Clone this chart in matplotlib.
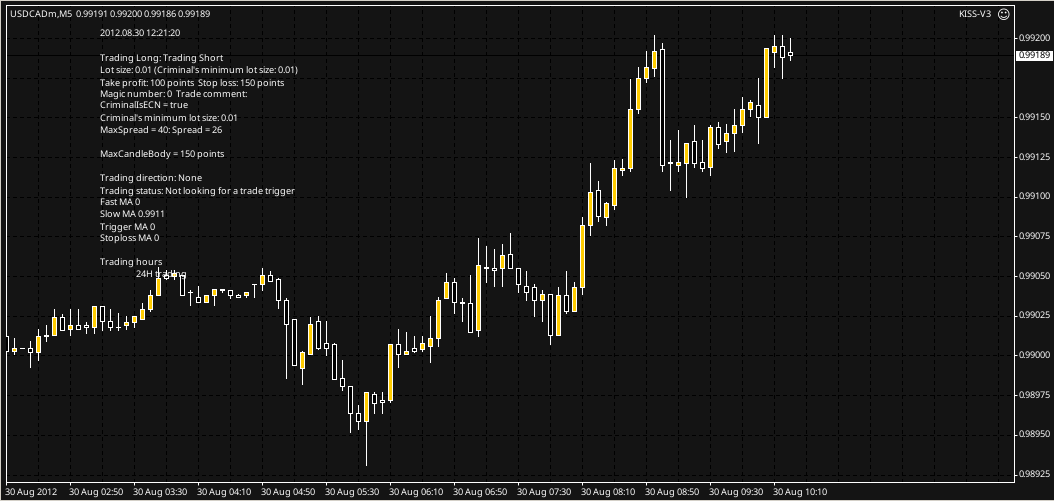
import numpy as np
import matplotlib
matplotlib.use('Agg')
import matplotlib.pyplot as plt
from matplotlib.patches import Rectangle

# prices in 1e-5 units (points), bar 0 = 30 Aug 02:10, M5
opens = [99012, 99003, 99005, 99005, 99002, 99012, 99013, 99024, 99017, 99019,
         99019, 99018, 99031, 99022, 99018, 99019, 99021, 99023, 99029, 99038,
         99051, 99050, 99051, 99040, 99037, 99034, 99038, 99042, 99041, 99038,
         99038, 99045, 99045, 99051, 99048, 99035, 99023, 98992, 99001, 99022,
         99008, 99007, 98986, 98981, 98964, 98959, 98976, 98972, 98972, 99007,
         99001, 99005, 99004, 99006, 99011, 99036, 99046, 99034, 99033, 99016,
         99056, 99055, 99055, 99064, 99055, 99044, 99043, 99035, 99039, 99013,
         99038, 99028, 99043, 99082, 99104, 99087, 99095, 99117, 99118, 99155,
         99175, 99181, 99193, 99122, 99120, 99121, 99135, 99122, 99119, 99144,
         99135, 99140, 99145, 99155, 99158, 99150, 99191, 99195, 99191]
highs = [99012, 99011, 99005, 99009, 99017, 99019, 99029, 99026, 99029, 99029,
         99021, 99031, 99031, 99029, 99027, 99025, 99025, 99033, 99041, 99056,
         99054, 99054, 99051, 99041, 99044, 99038, 99042, 99042, 99041, 99039,
         99040, 99045, 99055, 99053, 99049, 99036, 99023, 99003, 99024, 99025,
         99022, 99008, 98997, 98981, 98969, 98977, 98977, 98977, 99007, 99017,
         99015, 99012, 99012, 99025, 99037, 99052, 99049, 99036, 99051, 99074,
         99069, 99067, 99070, 99077, 99055, 99053, 99045, 99041, 99039, 99043,
         99053, 99046, 99087, 99121, 99110, 99097, 99123, 99124, 99174, 99182,
         99192, 99202, 99197, 99136, 99142, 99134, 99145, 99136, 99145, 99147,
         99146, 99155, 99163, 99161, 99175, 99194, 99202, 99202, 99200]
lows = [99002, 99001, 99005, 98993, 98997, 99009, 99013, 99016, 99013, 99017,
        99014, 99014, 99016, 99016, 99016, 99017, 99018, 99023, 99028, 99038,
        99048, 99048, 99038, 99032, 99034, 99034, 99032, 99040, 99036, 99037,
        99037, 99037, 99041, 99047, 99030, 98986, 98994, 98982, 99001, 99004,
        99000, 98985, 98978, 98952, 98954, 98931, 98964, 98964, 98971, 98993,
        99001, 99002, 99003, 98996, 99006, 99036, 99027, 99022, 99015, 99012,
        99046, 99044, 99044, 99055, 99040, 99035, 99025, 99022, 99007, 99013,
        99027, 99028, 99039, 99076, 99085, 99082, 99092, 99114, 99116, 99153,
        99172, 99176, 99116, 99104, 99116, 99100, 99119, 99116, 99114, 99131,
        99128, 99129, 99141, 99151, 99134, 99150, 99182, 99175, 99186]
closes = [99003, 99005, 99005, 99002, 99012, 99013, 99024, 99016, 99019, 99017,
          99018, 99031, 99022, 99018, 99018, 99021, 99025, 99029, 99038, 99049,
          99049, 99052, 99038, 99040, 99034, 99038, 99042, 99041, 99038, 99037,
          99040, 99045, 99051, 99047, 99035, 99020, 98994, 99002, 99020, 99005,
          99005, 98985, 98981, 98964, 98959, 98977, 98970, 98971, 99007, 99001,
          99003, 99003, 99008, 99011, 99035, 99046, 99034, 99033, 99015, 99057,
          99055, 99054, 99063, 99055, 99045, 99040, 99035, 99039, 99013, 99038,
          99028, 99043, 99082, 99103, 99088, 99096, 99118, 99118, 99155, 99175,
          99182, 99192, 99120, 99121, 99122, 99134, 99121, 99118, 99144, 99133,
          99140, 99145, 99155, 99160, 99150, 99194, 99195, 99188, 99189]

price_ticks = [99200, 99150, 99125, 99100, 99075, 99050, 99025, 99000, 98975, 98950, 98925]
grid_prices = [99200, 99175, 99150, 99125, 99100, 99075, 99050, 99025, 99000, 98975, 98950, 98925]
last_price = 99189

time_labels = ['30 Aug 2012', '30 Aug 02:50', '30 Aug 03:30', '30 Aug 04:10', '30 Aug 04:50',
               '30 Aug 05:30', '30 Aug 06:10', '30 Aug 06:50', '30 Aug 07:30', '30 Aug 08:10',
               '30 Aug 08:50', '30 Aug 09:30', '30 Aug 10:10']

comment_lines = [('2012.08.30 12:21:20', 33),
                 ('Trading Long: Trading Short', 59),
                 ("Lot size: 0.01 (Criminal's minimum lot size: 0.01)", 71),
                 ('Take profit: 100 points  Stop loss: 150 points', 83),
                 ('Magic number: 0  Trade comment:', 95),
                 ('CriminalIsECN = true', 107),
                 ("Criminal's minimum lot size: 0.01", 119),
                 ('MaxSpread = 40: Spread = 26', 131),
                 ('MaxCandleBody = 150 points', 155),
                 ('Trading direction: None', 179),
                 ('Trading status: Not looking for a trade trigger', 191),
                 ('Fast MA 0', 203),
                 ('Slow MA 0.9911', 215),
                 ('Trigger MA 0', 227),
                 ('Stoploss MA 0', 239),
                 ('Trading hours', 263)]

W, H = 1054, 501
BG = '#141414'
BULL = '#ffcc00'
CHROME = '#d4d0c8'
FONT = 'Noto Sans'
FS = 6.6
PX = 0.72  # one pixel at dpi 100

plt.rcParams['font.family'] = FONT
plt.rcParams['text.hinting'] = 'native'
plt.rcParams['text.hinting_factor'] = 1


def fx(x):
    return x / W


def fy(y):
    return 1 - y / H


def label(x, y, s, **kw):
    kw.setdefault('color', 'white')
    kw.setdefault('fontsize', FS)
    fig.text(fx(x), fy(y + 1), s, va='center', **kw)


fig = plt.figure(figsize=(W / 100, H / 100), dpi=100, facecolor=BG)
ax = fig.add_axes([fx(6), fy(482), (1014 - 6) / W, (482 - 5) / H], facecolor=BG)

opens = np.array(opens) / 1e5
highs = np.array(highs) / 1e5
lows = np.array(lows) / 1e5
closes = np.array(closes) / 1e5
bars = np.arange(len(opens))

ax.set_xlim(-0.04, 125.96)
ax.set_ylim(0.989203, 0.992208)

# grid
for k in range(0, 32):
    ax.axvline(k * 4, color='black', lw=PX, ls=(0, (3, 3)), zorder=1, antialiased=False)
for p in grid_prices:
    ax.axhline(p / 1e5, color='black', lw=PX, ls=(0, (3, 3)), zorder=1, antialiased=False)
ax.axhline(last_price / 1e5, color='black', lw=PX, zorder=1.5, antialiased=False)

# candles
ax.vlines(bars, lows, highs, color='white', lw=PX, zorder=3, antialiased=False)
up = closes >= opens
ax.bar(bars, np.abs(closes - opens), bottom=np.minimum(opens, closes), width=0.5,
       color=np.where(up, BULL, 'black'), edgecolor='white', linewidth=PX, zorder=4,
       antialiased=False)

# axes and ticks
for s in ax.spines.values():
    s.set_color('white')
    s.set_linewidth(PX)
ax.set_xticks(np.arange(len(time_labels)) * 8)
ax.set_xticklabels([])
ax.set_yticks(np.array(price_ticks) / 1e5)
ax.set_yticklabels([])
ax.yaxis.tick_right()
ax.tick_params(colors='white', length=2, width=PX)

for i, s in enumerate(time_labels):
    label(5 + 64 * i, 491, s)
for p in price_ticks:
    y = 482 - (p / 1e5 - 0.989203) / (0.992208 - 0.989203) * 477
    label(1018.5, y - 1, '%.5f' % (p / 1e5))

# current price tag
fig.add_artist(Rectangle((fx(1016), fy(61)), 37 / W, 10 / H, transform=fig.transFigure,
                         facecolor='white', edgecolor='none'))
label(1018.5, 55, '%.5f' % (last_price / 1e5), color='black')

# window chrome
fig.add_artist(Rectangle((0, fy(1)), 1, 1 / H, transform=fig.transFigure, facecolor=CHROME, edgecolor='none'))
fig.add_artist(Rectangle((0, 0), 1, 1 / H, transform=fig.transFigure, facecolor=CHROME, edgecolor='none'))
fig.add_artist(Rectangle((0, 0), 1 / W, 1, transform=fig.transFigure, facecolor=CHROME, edgecolor='none'))

# header and comment block
label(10, 13, 'USDCADm,M5  0.99191 0.99200 0.99186 0.99189')
label(958, 14, 'KISS-V3')
label(996.5, 14, '\u263a', family='DejaVu Sans', fontsize=9)
for s, y in comment_lines:
    label(100, y - 1, s)
label(136, 274, '24H trading')

fig.savefig('out.png', dpi=100, facecolor=fig.get_facecolor())
